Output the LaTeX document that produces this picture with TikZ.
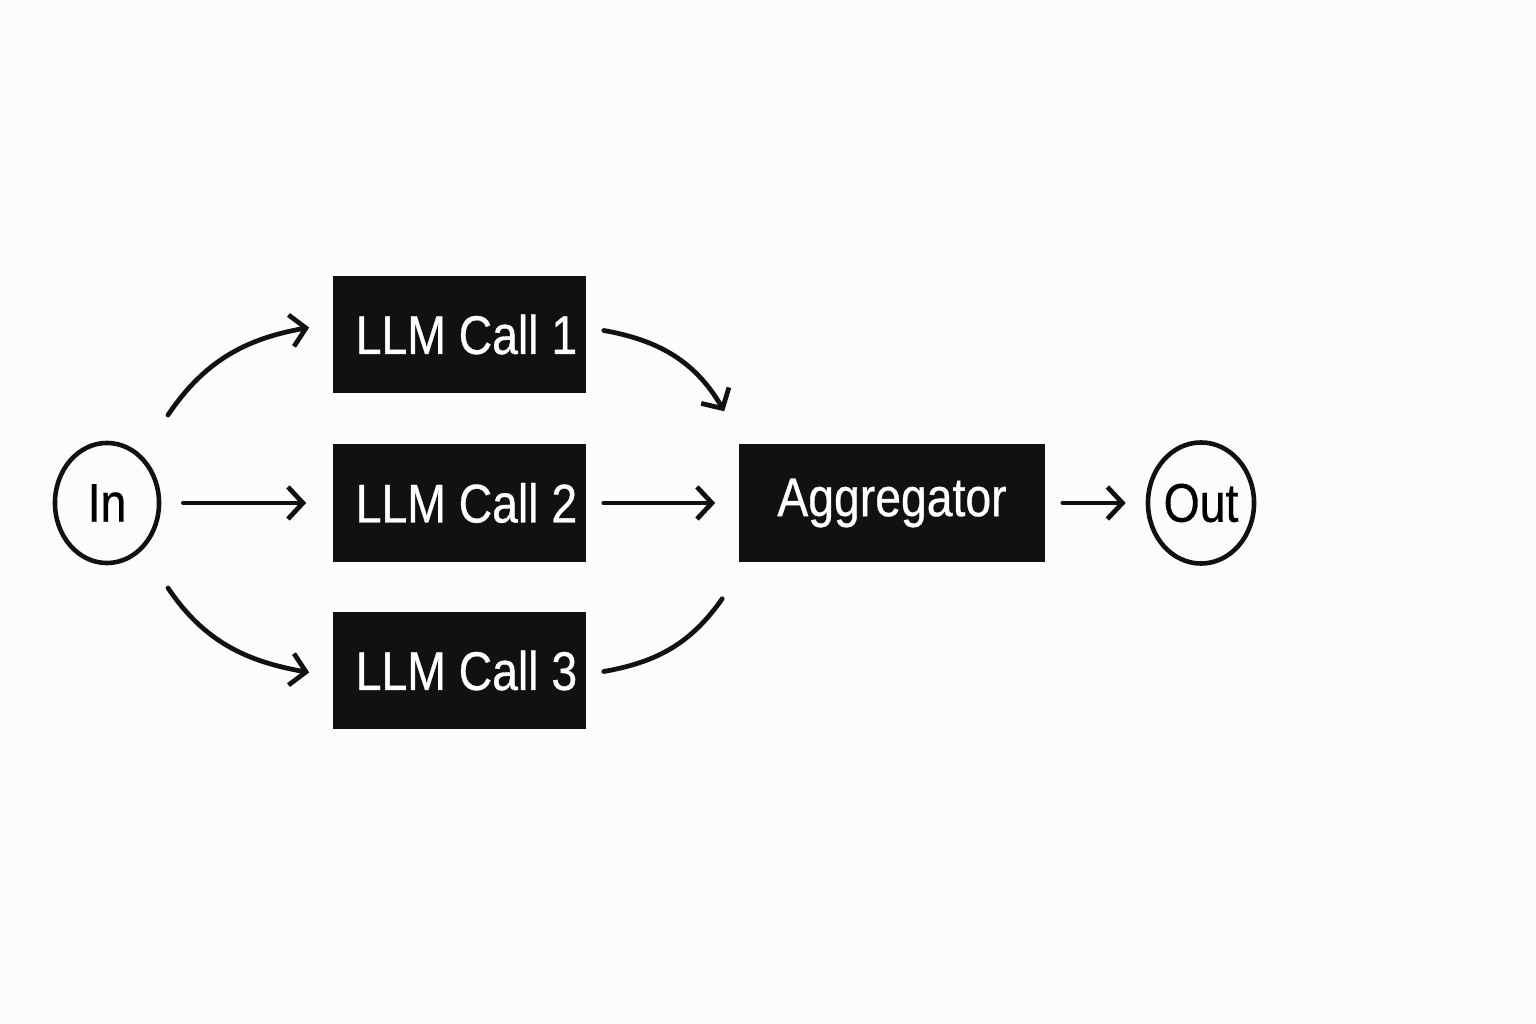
\documentclass[tikz,border=0pt]{standalone}
\usepackage{fontspec}
\usepackage{tikz}
\usetikzlibrary{arrows.meta, positioning, shapes.geometric}
\newfontfamily\diagfont[FakeStretch=0.85, FakeBold=0.6]{Liberation Sans}
\definecolor{boxblack}{RGB}{17,17,17}
\definecolor{paper}{RGB}{252,252,252}

\begin{document}
\begin{tikzpicture}[x=0.01cm, y=0.01cm,
    callbox/.style={draw=none, rectangle, fill=boxblack, text=white, minimum width=2.53cm, minimum height=1.17cm, inner sep=0pt, font=\diagfont\fontsize{15.5}{18}\selectfont},
    endpoint/.style={draw=boxblack, ellipse, line width=1.3pt, inner sep=0pt, font=\diagfont\fontsize{15.5}{18}\selectfont},
    flow/.style={line width=1.35pt, line cap=round, line join=round, boxblack, -{Straight Barb[length=1.5mm, width=3.2mm, line width=1.35pt]}}]
  \fill[paper] (0,0) rectangle (1536,1024);
  \useasboundingbox (0,0) rectangle (1536,1024);

  \node[endpoint, minimum width=1.04cm, minimum height=1.20cm] (in) at (107,521) {In};

  \node[callbox] (call1) at (459.5,689.5) {\hspace{0.14cm}LLM Call 1};
  \node[callbox] (call2) at (459.5,521) {\hspace{0.14cm}LLM Call 2};
  \node[callbox] (call3) at (459.5,353.5) {\hspace{0.14cm}LLM Call 3};

  \node[callbox, minimum width=3.06cm, minimum height=1.18cm] (agg) at (892,521) {Aggregator};
  \node[endpoint, minimum width=1.06cm, minimum height=1.21cm] (out) at (1201,521) {Out};

  \draw[flow] ([shift={(61,88)}]in.center) to[out=56, in=190] ([shift={(-23,7)}]call1.west);
  \draw[flow] ([shift={(22,0)}]in.east) -- ([shift={(-26,0)}]call2.west);
  \draw[flow] ([shift={(61,-85)}]in.center) to[out=-56, in=170] ([shift={(-23,-2)}]call3.west);

  \draw[flow] ([shift={(17,4)}]call1.east) to[out=-10, in=120] ([shift={(-14,32)}]agg.north west);
  \draw[flow] ([shift={(17,0)}]call2.east) -- ([shift={(-23,0)}]agg.west);
  \draw[flow, -] ([shift={(17,-1)}]call3.east) to[out=10, in=235] ([shift={(-16,-36)}]agg.south west);

  \draw[flow] ([shift={(17,0)}]agg.east) -- ([shift={(-20,0)}]out.west);
\end{tikzpicture}
\end{document}
